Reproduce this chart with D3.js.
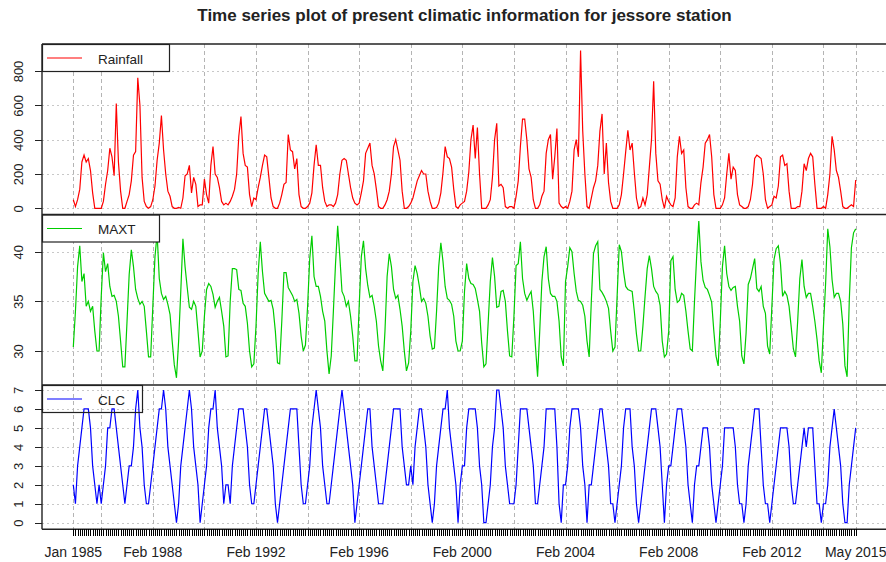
<!DOCTYPE html>
<html>
<head>
<meta charset="utf-8">
<script src="https://cdn.jsdelivr.net/npm/d3@7"></script>
<style>
  body { margin: 0; background: #fff; }
  svg { display: block; font-family: 'Liberation Sans', Arial, sans-serif; }
</style>
</head>
<body>
<svg id="chart" width="886" height="562"></svg>
<script>
// Monthly values, Jan 1985 .. May 2015 (one row per year)
const rainfall = [
  50, 10, 50, 110, 270, 310, 270, 290, 220, 90, 0, 0,
  0, 0, 40, 140, 220, 350, 300, 190, 610, 270, 100, 0,
  0, 40, 80, 160, 310, 330, 760, 600, 180, 40, 10, 0,
  10, 50, 130, 280, 380, 540, 340, 200, 100, 70, 10, 0,
  0, 5, 0, 60, 190, 200, 250, 90, 180, 140, 10, 20,
  20, 170, 80, 30, 250, 360, 200, 180, 120, 40, 20, 30,
  20, 40, 70, 110, 200, 420, 535, 320, 250, 240, 80, 10,
  60, 50, 120, 180, 250, 310, 300, 180, 60, 10, 0, 0,
  30, 80, 140, 150, 430, 340, 330, 230, 290, 80, 10, 0,
  0, 10, 30, 90, 250, 370, 250, 250, 120, 40, 10, 20,
  20, 10, 30, 80, 200, 280, 290, 280, 200, 120, 60, 30,
  20, 30, 90, 160, 320, 350, 380, 250, 200, 110, 10, 0,
  0, 20, 50, 100, 200, 360, 400, 340, 280, 100, 0, 0,
  10, 30, 60, 110, 160, 190, 220, 200, 200, 100, 40, 0,
  0, 5, 30, 90, 210, 360, 300, 290, 240, 110, 10, 0,
  20, 30, 40, 100, 210, 400, 485, 290, 470, 200, 0, 0,
  0, 20, 50, 180, 400, 495, 130, 140, 120, 10, 0, 10,
  10, 0, 70, 160, 360, 520, 520, 400, 230, 180, 50, 0,
  0, 20, 70, 100, 320, 400, 430, 170, 300, 465, 30, 10,
  0, 10, 0, 40, 100, 340, 400, 300, 920, 450, 200, 10,
  0, 60, 120, 160, 250, 450, 550, 200, 380, 150, 40, 0,
  0, 0, 20, 80, 200, 330, 455, 340, 380, 210, 60, 0,
  10, 60, 20, 80, 240, 400, 740, 320, 160, 140, 50, 0,
  70, 40, 20, 10, 60, 300, 420, 320, 340, 120, 10, 0,
  0, 20, 30, 20, 150, 240, 380, 400, 430, 300, 80, 0,
  0, 0, 20, 60, 200, 320, 170, 240, 220, 80, 20, 10,
  0, 0, 10, 50, 140, 290, 310, 300, 290, 200, 50, 0,
  10, 20, 70, 60, 130, 300, 310, 250, 260, 100, 0, 0,
  0, 10, 10, 100, 260, 220, 290, 320, 300, 140, 0, 0,
  0, 10, 0, 80, 200, 420, 340, 220, 180, 100, 10, 0,
  0, 10, 20, 10, 165
];

const maxTemp = [
  30.4, 34.0, 38.5, 40.6, 37.0, 37.8, 34.5, 35.0, 34.0, 34.5, 32.0, 30.0,
  30.0, 35.5, 39.9, 38.0, 38.8, 36.5, 35.5, 35.6, 35.0, 33.5, 31.0, 28.4,
  28.4, 33.0, 37.7, 40.2, 38.5, 36.2, 35.3, 34.7, 35.0, 34.5, 32.0, 29.4,
  29.4, 34.5, 39.5, 41.8, 37.3, 35.8, 35.2, 35.5, 34.7, 33.7, 31.0, 28.6,
  27.3, 31.0, 36.0, 41.3, 38.5, 36.4, 34.4, 34.2, 35.0, 34.5, 32.0, 29.4,
  30.0, 33.5, 36.2, 36.8, 36.5, 35.7, 34.4, 35.0, 35.4, 34.0, 32.5, 29.4,
  29.5, 35.0, 38.3, 38.3, 38.2, 36.2, 36.1, 34.8, 34.5, 32.8, 30.0, 28.4,
  28.7, 32.5, 37.8, 41.0, 38.0, 35.8, 35.4, 35.0, 35.1, 34.2, 32.0, 28.8,
  28.7, 33.0, 37.9, 37.9, 36.4, 36.0, 35.6, 35.0, 35.2, 33.8, 31.5, 30.0,
  30.6, 34.5, 39.3, 41.6, 37.5, 36.5, 36.5, 35.5, 34.0, 33.0, 30.0, 27.7,
  29.5, 34.0, 38.8, 42.6, 39.5, 36.0, 35.5, 34.5, 35.0, 33.5, 31.5, 29.0,
  29.0, 34.5, 39.5, 41.1, 38.3, 36.6, 35.4, 35.6, 34.5, 33.0, 30.5, 29.0,
  28.0, 32.0, 37.5, 39.8, 38.5, 36.2, 35.3, 35.6, 34.2, 32.5, 30.0, 28.0,
  28.8, 32.0, 37.0, 38.6, 37.8, 36.5, 35.0, 35.3, 34.8, 33.5, 31.5, 30.2,
  30.3, 34.0, 38.5, 40.9, 39.0, 36.5, 35.3, 35.1, 34.7, 33.5, 31.0, 30.0,
  30.0, 31.0, 36.0, 38.8, 37.3, 36.8, 36.7, 36.3, 35.2, 34.0, 30.8, 28.4,
  28.7, 32.8, 37.0, 39.4, 37.5, 34.4, 34.5, 36.0, 36.1, 35.0, 32.0, 29.5,
  29.4, 33.5, 38.6, 38.8, 41.0, 37.3, 35.8, 35.1, 35.6, 36.0, 34.0, 30.5,
  27.4, 32.0, 37.0, 39.5, 40.5, 37.3, 35.8, 35.5, 35.5, 35.0, 33.0, 29.4,
  28.5, 37.0, 38.5, 40.4, 40.0, 37.8, 36.0, 35.1, 35.0, 34.6, 33.5, 31.0,
  29.4, 35.0, 39.8, 40.6, 41.0, 36.2, 35.9, 35.5, 35.0, 34.3, 32.0, 30.0,
  30.4, 35.5, 40.7, 40.0, 38.0, 36.5, 36.2, 36.1, 36.0, 34.0, 31.7, 30.0,
  30.0, 32.5, 35.5, 38.3, 39.6, 38.3, 36.5, 36.0, 35.7, 34.6, 31.0, 29.4,
  29.7, 32.0, 39.1, 39.5, 36.2, 34.9, 35.1, 35.8, 35.6, 34.0, 32.0, 30.2,
  30.0, 35.0, 39.5, 43.1, 39.0, 37.1, 36.4, 36.2, 35.6, 34.9, 32.0, 29.5,
  28.5, 33.0, 38.5, 40.6, 37.8, 36.5, 36.1, 36.4, 36.5, 34.5, 33.0, 29.5,
  28.7, 31.8, 36.7, 37.3, 38.3, 39.3, 36.3, 36.0, 36.5, 34.5, 33.8, 30.5,
  29.7, 34.5, 39.2, 40.3, 40.6, 38.8, 35.5, 36.0, 35.6, 34.5, 32.4, 30.2,
  29.4, 33.0, 37.3, 39.2, 36.5, 35.4, 35.8, 35.8, 34.5, 33.0, 31.2, 29.0,
  27.8, 32.5, 36.8, 42.3, 40.5, 37.2, 35.4, 35.8, 35.8, 35.0, 32.7, 28.5,
  27.4, 35.0, 40.4, 41.9, 42.3
];

const cloudCover = [
  2, 1, 3, 4, 5, 6, 6, 6, 5, 3, 2, 1,
  2, 1, 2, 3, 5, 5, 6, 6, 5, 4, 3, 2,
  1, 2, 3, 3, 4, 6, 7, 5, 4, 2, 1, 1,
  2, 3, 4, 5, 6, 6, 7, 6, 4, 3, 2, 1,
  0, 1, 3, 4, 5, 6, 7, 6, 4, 3, 2, 0,
  1, 2, 3, 5, 6, 6, 7, 5, 4, 3, 1, 2,
  2, 1, 3, 4, 5, 6, 6, 6, 5, 4, 2, 1,
  1, 2, 3, 4, 5, 6, 6, 5, 4, 3, 1, 0,
  1, 2, 3, 4, 5, 6, 6, 6, 6, 4, 2, 1,
  1, 2, 3, 5, 6, 7, 6, 5, 3, 2, 1, 1,
  2, 3, 4, 5, 6, 7, 6, 5, 4, 3, 2, 0,
  1, 2, 3, 4, 5, 6, 6, 4, 3, 2, 1, 1,
  1, 2, 3, 4, 5, 6, 6, 6, 6, 4, 3, 2,
  2, 3, 2, 4, 5, 6, 6, 5, 4, 2, 1, 0,
  1, 3, 4, 5, 6, 6, 7, 5, 4, 3, 2, 0,
  2, 3, 3, 5, 6, 6, 6, 6, 5, 3, 2, 0,
  0, 1, 2, 4, 5, 7, 7, 6, 5, 3, 2, 1,
  1, 1, 2, 4, 6, 6, 6, 6, 5, 4, 3, 1,
  1, 2, 3, 4, 6, 6, 6, 6, 6, 4, 1, 0,
  2, 2, 3, 5, 6, 6, 6, 6, 5, 3, 2, 0,
  2, 2, 3, 4, 5, 6, 6, 5, 4, 3, 1, 1,
  0, 1, 2, 3, 5, 6, 6, 6, 4, 3, 1, 0,
  1, 2, 3, 4, 5, 6, 6, 6, 5, 4, 2, 0,
  2, 3, 3, 4, 5, 6, 6, 6, 5, 4, 2, 1,
  0, 2, 3, 3, 4, 5, 5, 5, 4, 2, 1, 0,
  1, 2, 3, 5, 5, 5, 5, 5, 4, 2, 1, 1,
  0, 1, 3, 4, 5, 6, 6, 6, 4, 2, 1, 1,
  0, 1, 2, 3, 4, 5, 5, 5, 5, 4, 2, 1,
  1, 2, 3, 4, 5, 4, 5, 5, 5, 3, 1, 1,
  0, 1, 1, 2, 4, 5, 6, 5, 4, 3, 1, 0,
  0, 2, 3, 4, 5
];

// x axis: month index 0 = Jan 1985
const labelMonths = [0, 37, 85, 133, 181, 229, 277, 325, 364];
const labelText = ['Jan 1985', 'Feb 1988', 'Feb 1992', 'Feb 1996', 'Feb 2000',
  'Feb 2004', 'Feb 2008', 'Feb 2012', 'May 2015'];
const gridMonths = [0, 13, 37, 61, 85, 109, 133, 157, 181, 205, 229, 253, 277, 301, 325, 349, 364];

const rainTicks = [0, 200, 400, 600, 800];
const tempTicks = [30, 35, 40];
const cloudTicks = [0, 1, 2, 3, 4, 5, 6, 7];

const title = 'Time series plot of present climatic information for jessore station';

const left = 42;
const right = 887;
const plotTop = 44;
const plotBottom = 529.3;
const ink = '#222';

const svg = d3.select('#chart');

const x = d3.scaleLinear()
  .domain([-14.56, rainfall.length - 1 + 14.56])
  .range([left, right]);

const panels = [
  {
    name: 'Rainfall', values: rainfall, color: '#ff0000', ticks: rainTicks,
    top: 44, bottom: 214.5, legendRight: 169, opaque: true,
    y: d3.scaleLinear().domain([0, 800]).range([208.3, 71]),
  },
  {
    name: 'MAXT', values: maxTemp, color: '#00cd00', ticks: tempTicks,
    top: 214.5, bottom: 385, legendRight: 159, opaque: true,
    y: d3.scaleLinear().domain([30, 40]).range([351, 251.7]),
  },
  {
    name: 'CLC', values: cloudCover, color: '#0000ff', ticks: cloudTicks,
    top: 385, bottom: plotBottom, legendRight: 142, opaque: false,
    y: d3.scaleLinear().domain([0, 7]).range([522.7, 390]),
  },
];

// title
svg.append('text')
  .attr('x', (left + right) / 2)
  .attr('y', 21)
  .attr('text-anchor', 'middle')
  .style('font-size', '17px')
  .style('font-weight', 'bold')
  .style('fill', ink)
  .text(title);

const defs = svg.append('defs');

panels.forEach((p, i) => {
  defs.append('clipPath')
    .attr('id', `clip${i}`)
    .append('rect')
    .attr('x', left)
    .attr('y', p.top)
    .attr('width', right - left)
    .attr('height', p.bottom - p.top);

  // horizontal grid
  svg.append('g')
    .selectAll('line')
    .data(p.ticks)
    .join('line')
    .attr('x1', left)
    .attr('x2', right)
    .attr('y1', d => Math.round(p.y(d)) + 0.5)
    .attr('y2', d => Math.round(p.y(d)) + 0.5)
    .style('stroke', '#c8c8c8')
    .style('stroke-dasharray', '2,3')
    .style('shape-rendering', 'crispEdges');
});

// vertical grid through all panels
svg.append('g')
  .selectAll('line')
  .data(gridMonths)
  .join('line')
  .attr('x1', d => Math.round(x(d)) + 0.5)
  .attr('x2', d => Math.round(x(d)) + 0.5)
  .attr('y1', plotTop)
  .attr('y2', plotBottom)
  .style('stroke', '#b4b4b4')
  .style('stroke-dasharray', '4,3')
  .style('shape-rendering', 'crispEdges');

panels.forEach((p, i) => {
  const line = d3.line()
    .x((d, j) => x(j))
    .y(d => p.y(d));

  svg.append('path')
    .attr('class', 'line')
    .attr('clip-path', `url(#clip${i})`)
    .attr('d', line(p.values))
    .style('fill', 'none')
    .style('stroke', p.color)
    .style('stroke-width', 1.2);

  // y axis
  const yAxis = d3.axisLeft(p.y)
    .tickValues(p.ticks)
    .tickFormat(d3.format('d'))
    .tickSize(7)
    .tickPadding(0);
  const g = svg.append('g')
    .attr('class', 'y axis')
    .attr('transform', `translate(${left},0)`)
    .call(yAxis);
  g.select('.domain').remove();
  g.selectAll('.tick line').style('stroke', ink).style('shape-rendering', 'crispEdges');
  g.selectAll('.tick text')
    .attr('x', 0)
    .attr('dy', null)
    .attr('y', -19)
    .attr('transform', 'rotate(-90)')
    .attr('text-anchor', 'middle')
    .style('font-family', "'Liberation Sans', Arial, sans-serif")
    .style('font-size', '13px')
    .style('fill', ink);

  // legend
  const lg = svg.append('g').attr('class', 'legend');
  lg.append('rect')
    .attr('x', left + 0.5)
    .attr('y', p.top + 0.5)
    .attr('width', p.legendRight - left)
    .attr('height', 27)
    .style('fill', p.opaque ? '#fff' : 'none')
    .style('stroke', ink)
    .style('stroke-width', 1.2);
  lg.append('line')
    .attr('x1', 47)
    .attr('x2', 82)
    .attr('y1', p.top + 14)
    .attr('y2', p.top + 14)
    .style('stroke', p.color)
    .style('stroke-width', 1.2);
  lg.append('text')
    .attr('x', 98)
    .attr('y', p.top + 19.5)
    .style('font-size', '13.5px')
    .style('fill', ink)
    .text(p.name);

  // panel separator / frame
  svg.append('line')
    .attr('x1', left)
    .attr('x2', right)
    .attr('y1', p.top)
    .attr('y2', p.top)
    .style('stroke', ink)
    .style('stroke-width', 1.4);
});

// outer frame left and bottom
svg.append('line')
  .attr('x1', left).attr('x2', left)
  .attr('y1', plotTop).attr('y2', plotBottom)
  .style('stroke', ink).style('stroke-width', 1.4);
svg.append('line')
  .attr('x1', left).attr('x2', right)
  .attr('y1', plotBottom).attr('y2', plotBottom)
  .style('stroke', ink).style('stroke-width', 1.4);

// x axis: one tick per month, labels at a few months
const xAxis = d3.axisBottom(x)
  .tickValues(d3.range(rainfall.length))
  .tickSize(6.5)
  .tickFormat('');
const gx = svg.append('g')
  .attr('class', 'x axis')
  .attr('transform', `translate(0,${plotBottom})`)
  .call(xAxis);
gx.select('.domain').remove();
gx.selectAll('.tick line')
  .style('stroke', '#000')
  .style('stroke-width', 1)
  .style('shape-rendering', 'crispEdges');

svg.append('g')
  .selectAll('text')
  .data(labelMonths)
  .join('text')
  .attr('x', d => x(d))
  .attr('y', 557)
  .attr('text-anchor', 'middle')
  .style('font-size', '14px')
  .style('fill', ink)
  .text((d, i) => labelText[i]);
</script>
</body>
</html>
